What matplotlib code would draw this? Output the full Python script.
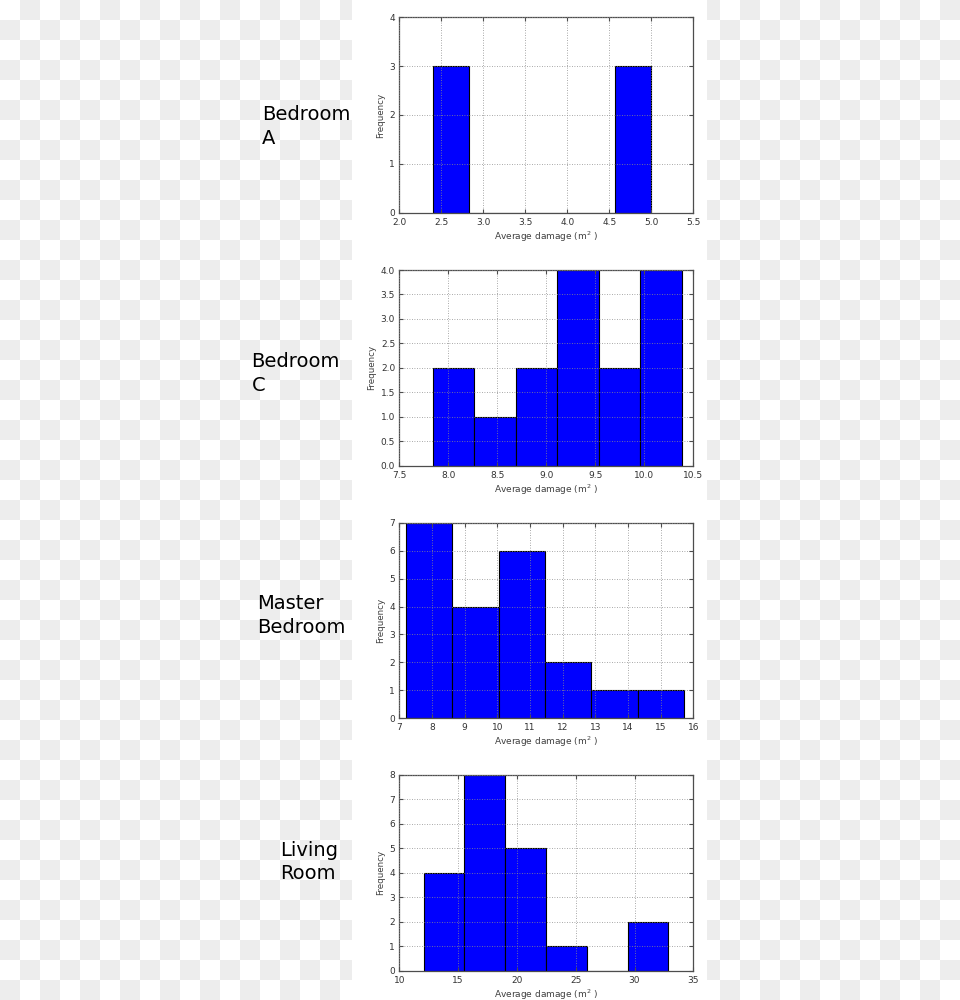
import numpy as np
import matplotlib
matplotlib.use('Agg')
import matplotlib.pyplot as plt
from matplotlib.patches import Rectangle

# rooms and their histogram bins (6 bins each), counts
rooms = ['Bedroom\nA', 'Bedroom\nC', 'Master\nBedroom', 'Living\nRoom']

edges_a = [2.40, 2.833, 3.267, 3.70, 4.133, 4.567, 5.00]
counts_a = [3, 0, 0, 0, 0, 3]

edges_c = [7.84, 8.264, 8.688, 9.112, 9.536, 9.96, 10.384]
counts_c = [2, 1, 2, 4, 2, 4]

edges_master = [7.20, 8.62, 10.04, 11.46, 12.88, 14.30, 15.72]
counts_master = [7, 4, 6, 2, 1, 1]

edges_living = [12.07, 15.54, 19.01, 22.48, 25.95, 29.42, 32.89]
counts_living = [4, 8, 5, 1, 0, 2]

xticks_all = [np.arange(2.0, 5.51, 0.5), np.arange(7.5, 10.51, 0.5),
              np.arange(7, 17, 1), np.arange(10, 36, 5)]
yticks_all = [np.arange(0, 5, 1), np.arange(0, 4.01, 0.5),
              np.arange(0, 8, 1), np.arange(0, 9, 1)]
xfmt_all = ['%.1f', '%.1f', '%d', '%d']
yfmt_all = ['%d', '%.1f', '%d', '%d']

edges_all = [edges_a, edges_c, edges_master, edges_living]
counts_all = [counts_a, counts_c, counts_master, counts_living]

plt.rcParams['font.family'] = 'DejaVu Sans'
plt.rcParams['xtick.direction'] = 'in'
plt.rcParams['ytick.direction'] = 'in'
plt.rcParams['xtick.top'] = True
plt.rcParams['ytick.right'] = True
plt.rcParams['xtick.major.size'] = 3
plt.rcParams['ytick.major.size'] = 3

W, H = 960, 1000
fig = plt.figure(figsize=(9.6, 10), dpi=100)

# transparent-png style checkerboard behind everything
bg = fig.add_axes([0, 0, 1, 1], zorder=-10)
rows, cols = np.indices((H // 20, W // 20))
checker = (rows + cols) % 2
bg.imshow(checker, cmap='gray_r', vmin=0, vmax=14, extent=(0, W, H, 0),
          interpolation='nearest', aspect='auto')
bg.add_patch(Rectangle((352, 0), 355, H, facecolor='white', edgecolor='none'))
bg.set_xlim(0, W)
bg.set_ylim(H, 0)
bg.axis('off')

# axes boxes in pixels: top, bottom
boxes = [(17.3, 212.7), (270.0, 465.7), (522.7, 718.3), (775.0, 970.7)]
ax_left, ax_right = 399.3, 693.3

# side label baselines (line1, line2) and left x
label_pos = [(262, 120, 144.3), (251.5, 366.7, 390.7),
             (257, 609, 633.3), (280.5, 855.7, 879.3)]

for i in range(4):
    top, bot = boxes[i]
    ax = fig.add_axes([ax_left / W, 1 - bot / H, (ax_right - ax_left) / W, (bot - top) / H])
    edges = np.array(edges_all[i])
    ax.hist(edges[:-1], bins=edges, weights=counts_all[i],
            color='#0000ff', edgecolor='black', linewidth=0.8)
    xt = xticks_all[i]
    yt = yticks_all[i]
    ax.set_xlim(xt[0], xt[-1])
    ax.set_ylim(yt[0], yt[-1])
    ax.set_xticks(xt)
    ax.set_yticks(yt)
    ax.set_xticklabels([xfmt_all[i] % v for v in xt])
    ax.set_yticklabels([yfmt_all[i] % v for v in yt])
    ax.tick_params(labelsize=6.5, labelcolor='0.2', color='0.3')
    ax.tick_params(axis='x', pad=3.5)
    ax.tick_params(axis='y', pad=3)
    ax.set_axisbelow(False)
    ax.grid(True, linestyle=(0, (1, 2)), color='0.55', linewidth=0.6)
    for s in ax.spines.values():
        s.set_color('0.3')
        s.set_linewidth(0.9)
    ax.set_xlabel('Average damage (m$^2$ )', fontsize=6.5, color='0.25', labelpad=2)
    ax.set_ylabel('Frequency', fontsize=6.3, color='0.25', labelpad=3)

    x, b1, b2 = label_pos[i]
    for line, base in zip(rooms[i].split('\n'), (b1, b2)):
        fig.text(x / W, 1 - base / H, line, fontsize=14, ha='left', va='baseline',
                 color='black')

fig.savefig('out.png', dpi=100)
